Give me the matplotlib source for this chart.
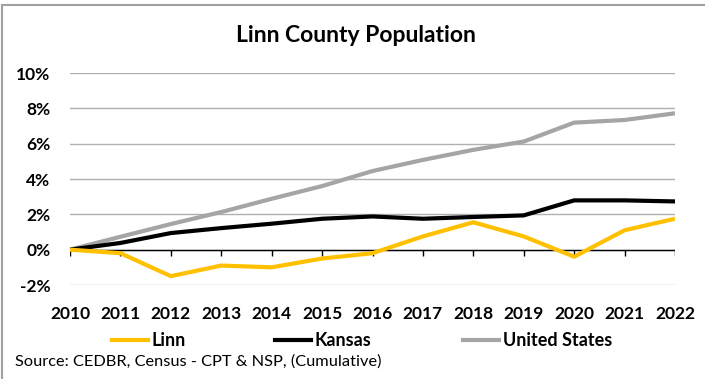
import matplotlib
matplotlib.use("Agg")
import matplotlib.pyplot as plt
from matplotlib.lines import Line2D

years = [2010, 2011, 2012, 2013, 2014, 2015, 2016, 2017, 2018, 2019, 2020, 2021, 2022]
linn = [0.0, -0.2, -1.5, -0.9, -1.0, -0.5, -0.2, 0.75, 1.55, 0.75, -0.4, 1.1, 1.75]
kansas = [0.0, 0.38, 0.94, 1.22, 1.47, 1.75, 1.88, 1.75, 1.85, 1.94, 2.79, 2.79, 2.73]
usa = [0.0, 0.73, 1.45, 2.13, 2.88, 3.6, 4.45, 5.08, 5.65, 6.12, 7.19, 7.34, 7.72]
yticks = [-2, 0, 2, 4, 6, 8, 10]
ytick_labels = ["-2%", "0%", "2%", "4%", "6%", "8%", "10%"]
series_names = ["Linn", "Kansas", "United States"]

FONT = ["Lato", "DejaVu Sans"]
plt.rcParams["font.family"] = FONT

fig = plt.figure(figsize=(7.05, 3.79), dpi=100)
ax = fig.add_axes([70 / 705, 1 - 285 / 379, 605 / 705, 212 / 379])

c_linn = "#FFC000"
c_ks = "#000000"
c_us = "#A5A5A5"
colors = [c_linn, c_ks, c_us]
lw = 3.0
ax.plot(years, usa, color=c_us, lw=lw, solid_capstyle="butt", zorder=3)
ax.plot(years, kansas, color=c_ks, lw=lw, solid_capstyle="butt", zorder=4)
ax.plot(years, linn, color=c_linn, lw=lw, solid_capstyle="butt", zorder=5)

ax.set_xlim(years[0], years[-1])
ax.set_ylim(-2, 10)
ax.set_yticks(yticks)
ax.set_yticklabels(ytick_labels, fontsize=12.5, fontweight="bold")
ax.set_xticks(years)
ax.set_xticklabels([str(y) for y in years], fontsize=12.5, fontweight="bold")
ax.tick_params(axis="both", length=0)
ax.tick_params(axis="x", pad=15)
ax.tick_params(axis="y", pad=14)
for s in ax.spines.values():
    s.set_visible(False)
ax.yaxis.grid(True, color="#B0B0B0", lw=1.0, zorder=1)
ax.set_axisbelow(True)
ax.axhline(0, color="#000000", lw=1.0, zorder=2)
ax.vlines(years, -0.37, 0, color="#000000", lw=1.0, zorder=2)

fig.text(356 / 705, 1 - 35 / 379, "Linn County Population", ha="center", va="center",
         fontsize=16.5, fontweight="bold")

leg_x = [112, 275, 463]
for name, col, lx in zip(series_names, colors, leg_x):
    leg = fig.legend([Line2D([], [], color=col, lw=3.0)], [name], loc="center left",
                     bbox_to_anchor=(lx / 705, 1 - 341 / 379), frameon=False,
                     prop={"family": FONT, "weight": "bold", "size": 13},
                     handlelength=2.0, handletextpad=0.2, borderpad=0, borderaxespad=0)

fig.text(15 / 705, 1 - 362 / 379, "Source: CEDBR, Census - CPT & NSP, (Cumulative)",
         ha="left", va="center", fontsize=11.8)

fig.add_artist(Line2D([2 / 705, 1], [1 - 5 / 379, 1 - 5 / 379], color="#A0A0A0", lw=1.5,
                      transform=fig.transFigure))
fig.add_artist(Line2D([2 / 705, 2 / 705], [0, 1 - 5 / 379], color="#A0A0A0", lw=1.5,
                      transform=fig.transFigure))

fig.savefig("out.png", dpi=100)
